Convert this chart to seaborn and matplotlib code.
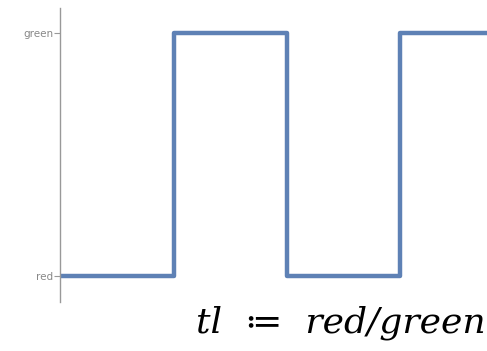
import numpy as np
import pandas as pd
import seaborn as sns
import matplotlib.pyplot as plt

sns.set_style("white")

time = [0, 1, 2, 3, 4]
state = [0, 1, 0, 1, 1]
state_labels = ["red", "green"]

df = pd.DataFrame({"time": time, "state": state})

fig = plt.figure(figsize=(4.87, 3.51), dpi=100)
ax = fig.add_axes([60 / 487, 1 - 302 / 351, 1 - 60 / 487, 294 / 351])

sns.lineplot(data=df, x="time", y="state", ax=ax, drawstyle="steps-post",
             color="#5E81B5", linewidth=3.2, legend=False)

x0 = -1 / 113
ax.set_xlim(x0, x0 + 427 / 113)
ax.set_ylim(-26 / 243, 1 + 25 / 243)
ax.set_yticks([0, 1])
ax.set_yticklabels(state_labels)
ax.set_xticks([])
ax.set_xlabel("")
ax.set_ylabel("")
for s in ["top", "right", "bottom"]:
    ax.spines[s].set_visible(False)
ax.spines["left"].set_color("#999999")
ax.spines["left"].set_linewidth(1)
ax.tick_params(axis="y", left=True, length=4, width=0.8, color="#999999",
               labelsize=7.5, labelcolor="#888888", pad=1)

fig.text(0.998, 18 / 351, "tl  \u2254  red/green", ha="right", va="baseline",
         fontsize=26, fontstyle="italic", color="black",
         family=["DejaVu Serif", "DejaVu Sans"])

fig.savefig("out.png", dpi=100)
